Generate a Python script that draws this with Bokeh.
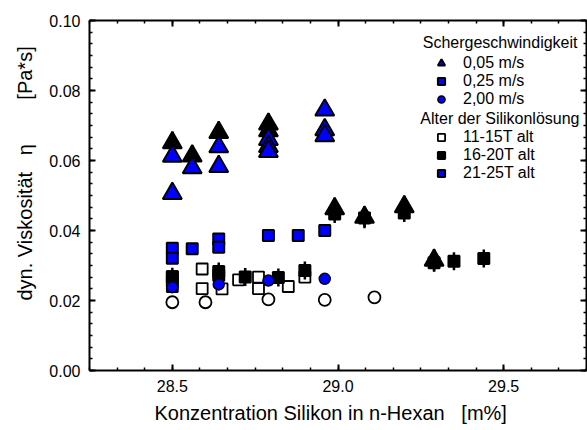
import numpy as np
from bokeh.plotting import figure
from bokeh.models import (LinearAxis, FixedTicker, Range1d, Legend, LegendItem, Label, Title,
                          NumeralTickFormatter, CustomJSTickFormatter)
from bokeh.embed import file_html
from bokeh.resources import INLINE

FONT = "Liberation Sans"

# ---------------- data ----------------
# 21-25T alt (blue)
t21_x = [28.50, 28.50, 28.56, 28.64, 28.64, 28.79, 28.79, 28.79, 28.96, 28.96, 28.96]
t21_y = [0.0612, 0.0506, 0.0579, 0.0639, 0.0583, 0.0660, 0.0640, 0.0626, 0.0744, 0.0688, 0.0671]
s21_x = [28.50, 28.50, 28.56, 28.64, 28.64, 28.79, 28.88, 28.96]
s21_y = [0.0349, 0.0321, 0.0348, 0.0376, 0.0352, 0.0386, 0.0386, 0.0400]
c21_x = [28.50, 28.64, 28.79, 28.96]
c21_y = [0.0238, 0.0246, 0.0257, 0.0262]

# 16-20T alt (black)
t16_x = [28.50, 28.56, 28.64, 28.79, 28.79, 28.99, 29.08, 29.20, 29.29]
t16_y = [0.0651, 0.0613, 0.0680, 0.0704, 0.0685, 0.0462, 0.0438, 0.0468, 0.0315]
s16_x = [28.50, 28.64, 28.64, 28.72, 28.82, 28.90, 28.99, 29.08, 29.20, 29.29, 29.35, 29.44]
s16_y = [0.0268, 0.0283, 0.0272, 0.0267, 0.0266, 0.0286, 0.0447, 0.0436, 0.0450, 0.0308, 0.0312, 0.0320]

# 11-15T alt (white)
s11_x = [28.50, 28.50, 28.50, 28.59, 28.59, 28.65, 28.70, 28.76, 28.76, 28.85, 28.90]
s11_y = [0.0268, 0.0255, 0.0240, 0.0290, 0.0234, 0.0233, 0.0259, 0.0267, 0.0234, 0.0240, 0.0267]
c11_x = [28.50, 28.60, 28.79, 28.96, 29.11]
c11_y = [0.0195, 0.0195, 0.0203, 0.0202, 0.0209]

x_ticks = [28.5, 29.0, 29.5]
y_ticks = [0.00, 0.02, 0.04, 0.06, 0.08, 0.10]

speed_title = "Schergeschwindigkeit"
speed_labels = ["0,05 m/s", "0,25 m/s", "2,00 m/s"]
age_title = "Alter der Silikonlösung"
age_labels = ["11-15T alt", "16-20T alt", "21-25T alt"]

NB = "\u00a0"
x_title = "Konzentration Silikon in n-Hexan " + NB * 2 + "[m%]"
y_title = "dyn. Viskosität " + NB * 2 + "η " + NB * 7 + "[Pa*s]"

BLUE = "#0000ff"

p = figure(width=587, height=430, output_backend="svg", toolbar_location=None,
           x_range=Range1d(28.25, 29.75), y_range=Range1d(0.0, 0.10),
           min_border_left=89, min_border_right=1, min_border_top=20, min_border_bottom=60)
p.grid.visible = False
p.outline_line_color = None
p.background_fill_color = "white"
p.border_fill_color = "white"

x_minor = list(np.round(np.arange(28.25, 29.75 + 1e-9, 0.5 / 6), 6))
y_minor = list(np.round(np.arange(0.0, 0.10 + 1e-9, 0.02 / 6), 6))


def style_axis(ax, ticks, minor, show_labels, fmt):
    ax.ticker = FixedTicker(ticks=ticks, minor_ticks=minor)
    ax.axis_line_width = 2
    ax.axis_line_color = "black"
    ax.major_tick_in = 6
    ax.major_tick_out = 0
    ax.minor_tick_in = 3
    ax.minor_tick_out = 0
    ax.major_tick_line_width = 2
    ax.minor_tick_line_width = 1.5
    ax.major_tick_line_color = "black"
    ax.minor_tick_line_color = "black"
    if show_labels:
        ax.formatter = NumeralTickFormatter(format=fmt)
        ax.major_label_text_font = FONT
        ax.major_label_text_font_size = "16px"
        ax.major_label_text_color = "black"
    else:
        ax.formatter = CustomJSTickFormatter(code="return ''")
        ax.major_label_standoff = 0
        ax.major_label_text_font_size = "1px"


xa = p.xaxis[0]
style_axis(xa, x_ticks, x_minor, True, "0.0")
xa.major_label_standoff = 9

ya = p.yaxis[0]
style_axis(ya, y_ticks, y_minor, True, "0.00")
ya.major_label_standoff = 9

top = LinearAxis()
style_axis(top, x_ticks, x_minor, False, None)
p.add_layout(top, "above")
right = LinearAxis()
style_axis(right, y_ticks, y_minor, False, None)
p.add_layout(right, "right")

# axis titles as side-panel titles (allow an offset along the axis)
p.add_layout(Title(text=y_title, align="left", offset=70, standoff=17, vertical_align="top",
                   text_font=FONT, text_font_size="20px", text_font_style="normal",
                   text_color="black"), "left")
p.add_layout(Title(text=x_title, align="left", offset=65, standoff=11,
                   text_font=FONT, text_font_size="20px", text_font_style="normal",
                   text_color="black"), "below")

# ---------------- marks ----------------
r_c11 = p.scatter(c11_x, c11_y, marker="circle", size=12, fill_color="white", line_color="black", line_width=1.8)
r_s11 = p.scatter(s11_x, s11_y, marker="square", size=11, fill_color="white", line_color="black", line_width=1.8)

r_t16 = p.scatter(t16_x, t16_y, marker="triangle", size=19, fill_color="black", line_color="black", line_width=2)
r_t16x = p.scatter(t16_x, t16_y, marker="dash", angle=np.pi / 2, size=22, line_color="black", line_width=2.5)
r_s16 = p.scatter(s16_x, s16_y, marker="square", size=11, fill_color="black", line_color="black", line_width=2)
r_s16x = p.scatter(s16_x, s16_y, marker="dash", angle=np.pi / 2, size=18, line_color="black", line_width=2.5)

r_t21 = p.scatter(t21_x, t21_y, marker="triangle", size=19, fill_color=BLUE, line_color="black", line_width=2)
r_s21 = p.scatter(s21_x, s21_y, marker="square", size=11, fill_color=BLUE, line_color="black", line_width=2)
r_c21 = p.scatter(c21_x, c21_y, marker="circle", size=11, fill_color=BLUE, line_color="black", line_width=1.5)

# ---------------- legends ----------------
def make_legend(items, loc):
    return Legend(items=items, location=loc, orientation="vertical",
                  glyph_width=18, glyph_height=18, spacing=0, padding=0, margin=0,
                  label_standoff=13, label_text_font=FONT, label_text_font_size="16px",
                  label_text_color="black", label_height=18,
                  border_line_color=None, background_fill_alpha=0)

leg1 = make_legend([LegendItem(label=speed_labels[0], renderers=[r_t21]),
                    LegendItem(label=speed_labels[1], renderers=[r_s21]),
                    LegendItem(label=speed_labels[2], renderers=[r_c21])], (343, 262))
leg2 = make_legend([LegendItem(label=age_labels[0], renderers=[r_s11]),
                    LegendItem(label=age_labels[1], renderers=[r_s16, r_s16x]),
                    LegendItem(label=age_labels[2], renderers=[r_s21])], (343, 188))
p.add_layout(leg1, "center")
p.add_layout(leg2, "center")

p.add_layout(Label(x=488, y=328, x_units="screen", y_units="screen", text=speed_title,
                   text_align="right", text_baseline="middle", text_font=FONT,
                   text_font_size="16px", text_color="black"))
p.add_layout(Label(x=490, y=252, x_units="screen", y_units="screen", text=age_title,
                   text_align="right", text_baseline="middle", text_font=FONT,
                   text_font_size="16px", text_color="black"))

open("out.html", "w").write(file_html(p, INLINE))
